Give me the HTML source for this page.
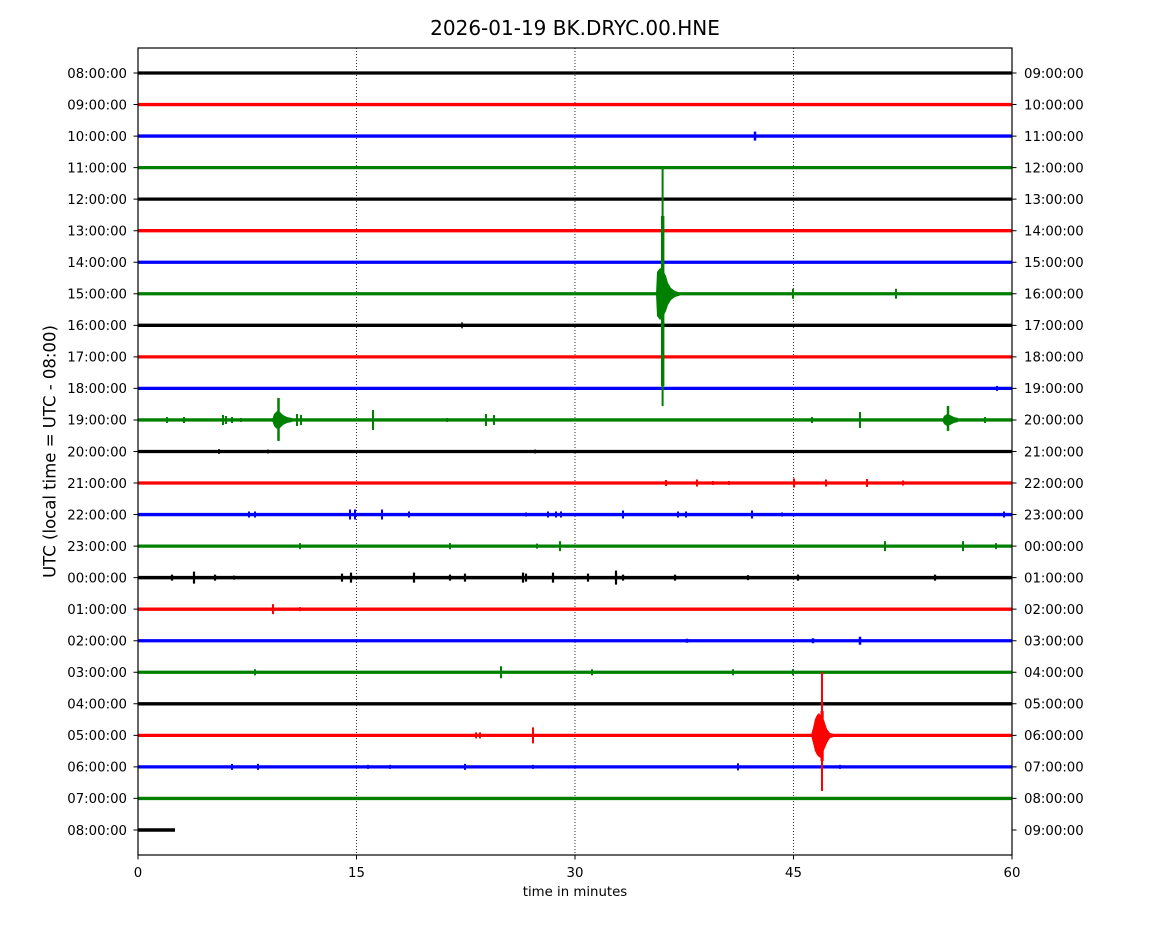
<!DOCTYPE html>
<html>
<head>
<meta charset="utf-8">
<style>
  html, body { margin: 0; padding: 0; background: #fff; }
  svg { display: block; }
  text { font-family: "DejaVu Sans", "Liberation Sans", sans-serif; fill: #000; }
</style>
</head>
<body>
<svg width="1150" height="950" viewBox="0 0 1150 950" xmlns="http://www.w3.org/2000/svg">
  <rect x="0" y="0" width="1150" height="950" fill="#fff"/>

  <!-- Title -->
  <text x="575" y="35" font-size="20" text-anchor="middle">2026-01-19 BK.DRYC.00.HNE</text>

  <!-- grid dotted lines -->
  <g stroke="#000" stroke-width="0.8" stroke-dasharray="1,2" fill="none">
    <line x1="356.5" y1="48" x2="356.5" y2="855"/>
    <line x1="575" y1="48" x2="575" y2="855"/>
    <line x1="793.5" y1="48" x2="793.5" y2="855"/>
  </g>

  <!-- Traces -->
  <g fill="none" stroke-linecap="butt">
    <g transform="translate(0,73)" stroke="#000"><line x1="138" y1="0" x2="1012" y2="0" stroke-width="3.3"/></g>
    <g transform="translate(0,104.54)" stroke="#f00"><line x1="138" y1="0" x2="1012" y2="0" stroke-width="3.3"/></g>
    <g transform="translate(0,136.08)" stroke="#00f"><line x1="138" y1="0" x2="1012" y2="0" stroke-width="3.3"/>
      <path d="M755 -4.5V4.5" stroke-width="2.5"/></g>
    <g transform="translate(0,167.62)" stroke="#008000"><line x1="138" y1="0" x2="1012" y2="0" stroke-width="3.3"/></g>
    <g transform="translate(0,199.16)" stroke="#000"><line x1="138" y1="0" x2="1012" y2="0" stroke-width="3.3"/></g>
    <g transform="translate(0,230.7)" stroke="#f00"><line x1="138" y1="0" x2="1012" y2="0" stroke-width="3.3"/></g>
    <g transform="translate(0,262.24)" stroke="#00f"><line x1="138" y1="0" x2="1012" y2="0" stroke-width="3.3"/></g>
    <g transform="translate(0,293.78)" stroke="#008000"><line x1="138" y1="0" x2="1012" y2="0" stroke-width="3.3"/>
      <path d="M793 -5V5 M896 -5V5" stroke-width="2"/></g>
    <g transform="translate(0,325.32)" stroke="#000"><line x1="138" y1="0" x2="1012" y2="0" stroke-width="3.3"/>
      <path d="M462 -3V3" stroke-width="1.5"/></g>
    <g transform="translate(0,356.86)" stroke="#f00"><line x1="138" y1="0" x2="1012" y2="0" stroke-width="3.3"/></g>
    <g transform="translate(0,388.4)" stroke="#00f"><line x1="138" y1="0" x2="1012" y2="0" stroke-width="3.3"/>
      <path d="M997 -2.5V2.5" stroke-width="2"/></g>
    <g transform="translate(0,419.94)" stroke="#008000"><line x1="138" y1="0" x2="1012" y2="0" stroke-width="3.3"/>
      <path d="M167 -3V3 M184 -3V3 M223 -5V5 M226 -4V4 M232 -3V3 M241 -2V2 M297 -6V6 M301 -5V5 M373 -10V10 M447 -2V2 M486 -6V6 M494 -5V5 M812 -3V3 M860 -8V8 M985 -3V3" stroke-width="2"/>
      <path d="M278.5 -22V21" stroke-width="2.5"/>
      <path d="M948 -14V11" stroke-width="2.5"/>
      <polygon points="272,0 274,-6 277,-9 280,-8 283,-5 287,-3 292,-2 292,2 287,3 283,5 280,8 277,9 274,6" fill="#008000" stroke="none"/>
      <polygon points="942,0 944,-4 947,-6 950,-5 954,-3 958,-2 958,2 954,3 950,5 947,6 944,4" fill="#008000" stroke="none"/>
    </g>
    <g transform="translate(0,451.48)" stroke="#000"><line x1="138" y1="0" x2="1012" y2="0" stroke-width="3.3"/>
      <path d="M219 -2.5V2.5 M268 -2V2 M535 -2V2" stroke-width="1.5"/></g>
    <g transform="translate(0,483.02)" stroke="#f00"><line x1="138" y1="0" x2="1012" y2="0" stroke-width="3.3"/>
      <path d="M666 -3V3 M697 -3.5V3.5 M713 -2V2 M729 -2V2 M794 -4.5V4.5 M826 -3.5V3.5 M867 -4V4 M903 -2.5V2.5" stroke-width="2"/></g>
    <g transform="translate(0,514.56)" stroke="#00f"><line x1="138" y1="0" x2="1012" y2="0" stroke-width="3.3"/>
      <path d="M249 -3V3 M255 -3V3 M350 -5V5 M355 -5V5 M382 -5V5 M409 -3V3 M526 -2V2 M548 -3V3 M556 -3V3 M561 -3V3 M623 -4V4 M678 -3V3 M686 -3V3 M752 -4V4 M782 -2V2 M1004 -3V3" stroke-width="2"/></g>
    <g transform="translate(0,546.1)" stroke="#008000"><line x1="138" y1="0" x2="1012" y2="0" stroke-width="3.3"/>
      <path d="M300 -3V3 M450 -3V3 M537 -2.5V2.5 M560 -5V5 M885 -5V5 M963 -5V5 M996 -3V3" stroke-width="2"/></g>
    <g transform="translate(0,577.64)" stroke="#000"><line x1="138" y1="0" x2="1012" y2="0" stroke-width="3.5"/>
      <path d="M172 -3V3 M194 -6V6 M215 -3V3 M234 -2V2 M342 -4V4 M351 -5V5 M414 -5V5 M450 -3V3 M465 -4V4 M523 -5V5 M526 -4V4 M553 -5V5 M588 -4V4 M616 -7V7 M623 -3V3 M675 -3V3 M748 -2.5V2.5 M798 -3V3 M935 -3V3" stroke-width="2.2"/></g>
    <g transform="translate(0,609.18)" stroke="#f00"><line x1="138" y1="0" x2="1012" y2="0" stroke-width="3.3"/>
      <path d="M273 -5V5 M300 -2V2" stroke-width="2"/></g>
    <g transform="translate(0,640.72)" stroke="#00f"><line x1="138" y1="0" x2="1012" y2="0" stroke-width="3.3"/>
      <path d="M687 -2V2 M813 -2.5V2.5 M860 -4V4" stroke-width="2.5"/></g>
    <g transform="translate(0,672.26)" stroke="#008000"><line x1="138" y1="0" x2="1012" y2="0" stroke-width="3.3"/>
      <path d="M255 -3V3 M501 -6V6 M592 -3V3 M733 -3V3 M793 -3V3" stroke-width="2"/></g>
    <g transform="translate(0,703.8)" stroke="#000"><line x1="138" y1="0" x2="1012" y2="0" stroke-width="3.3"/></g>
    <g transform="translate(0,735.34)" stroke="#f00"><line x1="138" y1="0" x2="1012" y2="0" stroke-width="3.3"/>
      <path d="M476 -3V3 M480 -3V3 M533 -8V8" stroke-width="2"/></g>
    <g transform="translate(0,766.88)" stroke="#00f"><line x1="138" y1="0" x2="1012" y2="0" stroke-width="3.3"/>
      <path d="M232 -3V3 M258 -3V3 M368 -2V2 M390 -2V2 M465 -3V3 M533 -2V2 M738 -3.5V3.5 M840 -2V2" stroke-width="2"/></g>
    <g transform="translate(0,798.42)" stroke="#008000"><line x1="138" y1="0" x2="1012" y2="0" stroke-width="3.3"/></g>
    <g transform="translate(0,829.96)" stroke="#000"><line x1="138" y1="0" x2="175" y2="0" stroke-width="3.5"/></g>
  </g>

  <!-- Big green event (row 7) -->
  <g fill="#008000" stroke="none">
    <rect x="661.6" y="167" width="2" height="239"/>
    <rect x="661" y="216" width="3.4" height="170"/>
    <polygon points="656,294 657,272 660,268 663,270 666,276 668,283 671,288 675,291 680,292.5 680,295.5 675,297 671,300 668,305 666,311 663,317 660,320 657,316"/>
  </g>

  <!-- Big red event (row 21) -->
  <g fill="#f00" stroke="none">
    <rect x="821" y="672" width="2" height="119"/>
    <rect x="820.5" y="711" width="3.2" height="50"/>
    <polygon points="811,735 813,728 815,719 817,715 819,713 821,716 824,720 827,729 830,733 834,734 834,737 830,738 827,743 824,750 821,758 819,757 817,755 815,751 813,743"/>
  </g>

  <!-- Axes frame -->
  <rect x="138" y="48" width="874" height="807" fill="none" stroke="#000" stroke-width="1.2"/>

  <!-- ticks -->
  <g stroke="#000" stroke-width="1">
    <path d="M133.5 73H138 M133.5 104.54H138 M133.5 136.08H138 M133.5 167.62H138 M133.5 199.16H138 M133.5 230.7H138 M133.5 262.24H138 M133.5 293.78H138 M133.5 325.32H138 M133.5 356.86H138 M133.5 388.4H138 M133.5 419.94H138 M133.5 451.48H138 M133.5 483.02H138 M133.5 514.56H138 M133.5 546.1H138 M133.5 577.64H138 M133.5 609.18H138 M133.5 640.72H138 M133.5 672.26H138 M133.5 703.8H138 M133.5 735.34H138 M133.5 766.88H138 M133.5 798.42H138 M133.5 829.96H138"/>
    <path d="M1012 73H1016.5 M1012 104.54H1016.5 M1012 136.08H1016.5 M1012 167.62H1016.5 M1012 199.16H1016.5 M1012 230.7H1016.5 M1012 262.24H1016.5 M1012 293.78H1016.5 M1012 325.32H1016.5 M1012 356.86H1016.5 M1012 388.4H1016.5 M1012 419.94H1016.5 M1012 451.48H1016.5 M1012 483.02H1016.5 M1012 514.56H1016.5 M1012 546.1H1016.5 M1012 577.64H1016.5 M1012 609.18H1016.5 M1012 640.72H1016.5 M1012 672.26H1016.5 M1012 703.8H1016.5 M1012 735.34H1016.5 M1012 766.88H1016.5 M1012 798.42H1016.5 M1012 829.96H1016.5"/>
    <path d="M138 855V859.5 M356.5 855V859.5 M575 855V859.5 M793.5 855V859.5 M1012 855V859.5"/>
  </g>

  <!-- Left labels -->
  <g font-size="13.3" text-anchor="end">
    <text x="127" y="77.8">08:00:00</text>
    <text x="127" y="109.3">09:00:00</text>
    <text x="127" y="140.9">10:00:00</text>
    <text x="127" y="172.4">11:00:00</text>
    <text x="127" y="204">12:00:00</text>
    <text x="127" y="235.5">13:00:00</text>
    <text x="127" y="267">14:00:00</text>
    <text x="127" y="298.6">15:00:00</text>
    <text x="127" y="330.1">16:00:00</text>
    <text x="127" y="361.7">17:00:00</text>
    <text x="127" y="393.2">18:00:00</text>
    <text x="127" y="424.7">19:00:00</text>
    <text x="127" y="456.3">20:00:00</text>
    <text x="127" y="487.8">21:00:00</text>
    <text x="127" y="519.4">22:00:00</text>
    <text x="127" y="550.9">23:00:00</text>
    <text x="127" y="582.4">00:00:00</text>
    <text x="127" y="614">01:00:00</text>
    <text x="127" y="645.5">02:00:00</text>
    <text x="127" y="677.1">03:00:00</text>
    <text x="127" y="708.6">04:00:00</text>
    <text x="127" y="740.1">05:00:00</text>
    <text x="127" y="771.7">06:00:00</text>
    <text x="127" y="803.2">07:00:00</text>
    <text x="127" y="834.8">08:00:00</text>
  </g>

  <!-- Right labels -->
  <g font-size="13.3" text-anchor="start">
    <text x="1024" y="77.8">09:00:00</text>
    <text x="1024" y="109.3">10:00:00</text>
    <text x="1024" y="140.9">11:00:00</text>
    <text x="1024" y="172.4">12:00:00</text>
    <text x="1024" y="204">13:00:00</text>
    <text x="1024" y="235.5">14:00:00</text>
    <text x="1024" y="267">15:00:00</text>
    <text x="1024" y="298.6">16:00:00</text>
    <text x="1024" y="330.1">17:00:00</text>
    <text x="1024" y="361.7">18:00:00</text>
    <text x="1024" y="393.2">19:00:00</text>
    <text x="1024" y="424.7">20:00:00</text>
    <text x="1024" y="456.3">21:00:00</text>
    <text x="1024" y="487.8">22:00:00</text>
    <text x="1024" y="519.4">23:00:00</text>
    <text x="1024" y="550.9">00:00:00</text>
    <text x="1024" y="582.4">01:00:00</text>
    <text x="1024" y="614">02:00:00</text>
    <text x="1024" y="645.5">03:00:00</text>
    <text x="1024" y="677.1">04:00:00</text>
    <text x="1024" y="708.6">05:00:00</text>
    <text x="1024" y="740.1">06:00:00</text>
    <text x="1024" y="771.7">07:00:00</text>
    <text x="1024" y="803.2">08:00:00</text>
    <text x="1024" y="834.8">09:00:00</text>
  </g>

  <!-- X tick labels -->
  <g font-size="13.3" text-anchor="middle">
    <text x="138" y="877">0</text>
    <text x="356.5" y="877">15</text>
    <text x="575" y="877">30</text>
    <text x="793.5" y="877">45</text>
    <text x="1012" y="877">60</text>
  </g>

  <!-- X label -->
  <text x="575" y="896" font-size="13.3" text-anchor="middle">time in minutes</text>

  <!-- Y label -->
  <text transform="translate(55.5,451.5) rotate(-90)" font-size="16.5" text-anchor="middle">UTC (local time = UTC - 08:00)</text>
</svg>
</body>
</html>
